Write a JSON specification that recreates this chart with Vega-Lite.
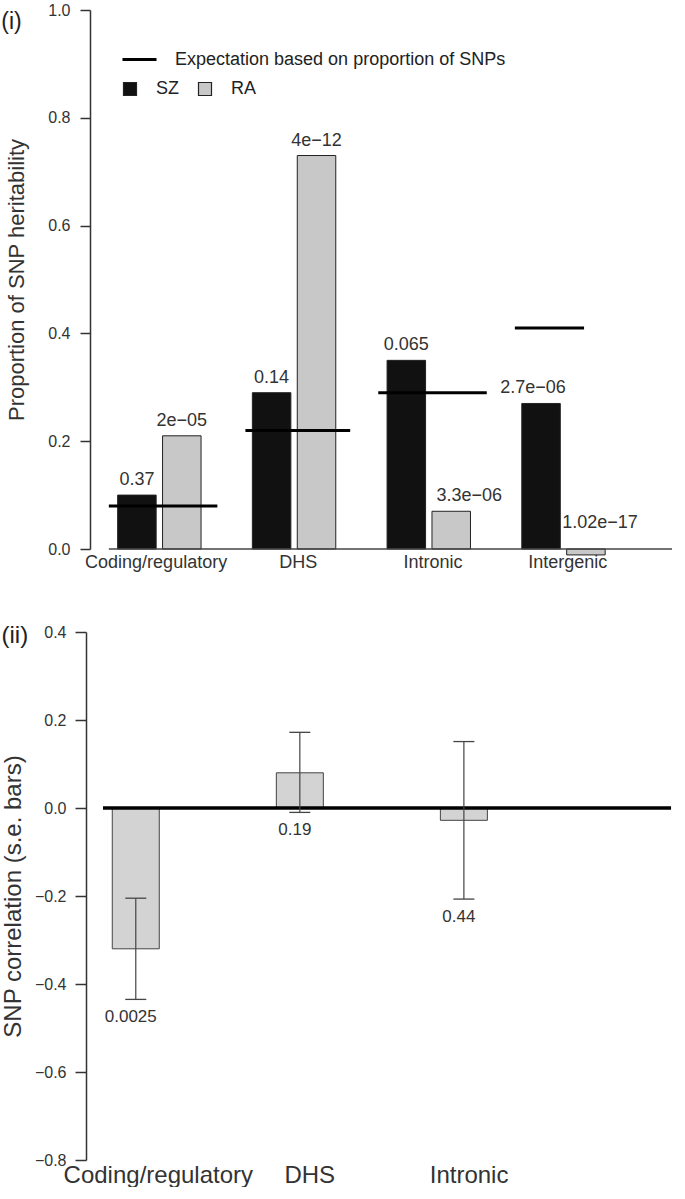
{
  "$schema": "https://vega.github.io/schema/vega-lite/v6.json",
  "padding": {"left": 1, "top": 2, "right": 5, "bottom": 0},
  "spacing": 53,
  "config": {
    "view": {"stroke": null},
    "font": "Liberation Sans",
    "axis": {"grid": false, "labelFont": "Liberation Sans", "titleFont": "Liberation Sans", "titleFontWeight": "normal", "labelColor": "#333", "titleColor": "#333", "domainColor": "#333", "tickColor": "#333", "labelLimit": 0},
    "legend": {"labelFont": "Liberation Sans", "labelColor": "#222", "labelLimit": 0}
  },
  "datasets": {
    "heritability": [
      {"region": "Coding/regulatory", "series": "SZ", "pos": 1.9, "value": 0.10, "p": "0.37"},
      {"region": "Coding/regulatory", "series": "RA", "pos": 3.1, "value": 0.21, "p": "2e\u221205"},
      {"region": "DHS", "series": "SZ", "pos": 5.5, "value": 0.29, "p": "0.14"},
      {"region": "DHS", "series": "RA", "pos": 6.7, "value": 0.73, "p": "4e\u221212"},
      {"region": "Intronic", "series": "SZ", "pos": 9.1, "value": 0.35, "p": "0.065"},
      {"region": "Intronic", "series": "RA", "pos": 10.3, "value": 0.07, "p": "3.3e\u221206"},
      {"region": "Intergenic", "series": "SZ", "pos": 12.7, "value": 0.27, "p": "2.7e\u221206"},
      {"region": "Intergenic", "series": "RA", "pos": 13.9, "value": -0.011, "p": "1.02e\u221217"}
    ],
    "expectation": [
      {"region": "Coding/regulatory", "start": 1.15, "end": 4.05, "expected": 0.08},
      {"region": "DHS", "start": 4.8, "end": 7.6, "expected": 0.22},
      {"region": "Intronic", "start": 8.35, "end": 11.25, "expected": 0.29},
      {"region": "Intergenic", "start": 12.0, "end": 13.85, "expected": 0.41}
    ],
    "correlation": [
      {"region": "Coding/regulatory", "pos": 3.0, "value": -0.32, "lower": -0.435, "upper": -0.205, "p": "0.0025"},
      {"region": "DHS", "pos": 6.5, "value": 0.08, "lower": -0.01, "upper": 0.172, "p": "0.19"},
      {"region": "Intronic", "pos": 10.0, "value": -0.028, "lower": -0.207, "upper": 0.151, "p": "0.44"}
    ]
  },
  "vconcat": [
    {
      "width": 587,
      "height": 539,
      "layer": [
        {
          "data": {"name": "heritability"},
          "mark": {"type": "bar", "width": 38.5, "stroke": "#222", "strokeWidth": 1},
          "encoding": {
            "x": {"field": "pos", "type": "quantitative",
              "scale": {"domain": [0.78, 16.2], "nice": false, "zero": false},
              "axis": {"values": [2.4, 6.2, 9.8, 13.4], "labelExpr": "datum.value < 3 ? 'Coding/regulatory' : datum.value < 7 ? 'DHS' : datum.value < 11 ? 'Intronic' : 'Intergenic'", "domain": false, "ticks": false, "tickSize": 0, "labelPadding": 4, "labelFontSize": 18, "labelOverlap": false, "labelFlush": false, "title": null}},
            "y": {"field": "value", "type": "quantitative",
              "scale": {"domain": [0, 1], "nice": false},
              "axis": {"values": [0, 0.2, 0.4, 0.6, 0.8, 1.0], "format": ".1f", "tickSize": 10, "labelPadding": 10, "labelFontSize": 16, "domainWidth": 1.5, "tickWidth": 1.5, "title": "Proportion of SNP heritability", "titleFontSize": 22, "titlePadding": 19}},
            "y2": {"datum": 0},
            "fill": {"field": "series", "type": "nominal",
              "scale": {"domain": ["SZ", "RA"], "range": ["#111111", "#c8c8c8"]},
              "legend": {"orient": "none", "legendX": 31, "legendY": 70, "direction": "horizontal", "title": null, "symbolType": "square", "symbolSize": 169, "symbolStrokeColor": "#222", "symbolStrokeWidth": 1.2, "symbolOpacity": 1, "labelFontSize": 18, "labelOffset": 17, "columnPadding": 16, "padding": 0}}
          }
        },
        {
          "data": {"values": [{}]},
          "mark": {"type": "rule", "color": "#444", "strokeWidth": 1.5},
          "encoding": {"x": {"datum": 1.15}, "x2": {"datum": 16.2}, "y": {"datum": 0}}
        },
        {
          "data": {"name": "expectation"},
          "mark": {"type": "rule", "strokeWidth": 3},
          "encoding": {
            "x": {"field": "start", "type": "quantitative"},
            "x2": {"field": "end"},
            "y": {"field": "expected", "type": "quantitative"},
            "stroke": {"datum": "Expectation based on proportion of SNPs", "type": "nominal",
              "scale": {"range": ["#000000"]},
              "legend": {"orient": "none", "legendX": 31, "legendY": 31, "title": null, "symbolType": "stroke", "symbolSize": 1156, "symbolStrokeWidth": 3, "labelFontSize": 18, "labelOffset": 17, "padding": 0}}
          }
        },
        {
          "data": {"name": "heritability"},
          "transform": [{"filter": "datum.value > 0 && datum.p != '3.3e\u221206' && datum.p != '2.7e\u221206'"}],
          "mark": {"type": "text", "fontSize": 18, "color": "#333", "baseline": "middle", "dy": -15},
          "encoding": {"x": {"field": "pos", "type": "quantitative"}, "y": {"field": "value", "type": "quantitative"}, "text": {"field": "p"}}
        },
        {
          "data": {"name": "heritability"},
          "transform": [{"filter": "datum.p == '3.3e\u221206'"}],
          "mark": {"type": "text", "fontSize": 18, "color": "#333", "baseline": "middle", "dy": -15, "dx": 18},
          "encoding": {"x": {"field": "pos", "type": "quantitative"}, "y": {"field": "value", "type": "quantitative"}, "text": {"field": "p"}}
        },
        {
          "data": {"name": "heritability"},
          "transform": [{"filter": "datum.p == '2.7e\u221206'"}],
          "mark": {"type": "text", "fontSize": 18, "color": "#333", "baseline": "middle", "dy": -15, "dx": -8},
          "encoding": {"x": {"field": "pos", "type": "quantitative"}, "y": {"field": "value", "type": "quantitative"}, "text": {"field": "p"}}
        },
        {
          "data": {"name": "heritability"},
          "transform": [{"filter": "datum.value < 0"}],
          "mark": {"type": "text", "fontSize": 18, "color": "#333", "baseline": "middle", "dy": -26, "dx": 14},
          "encoding": {"x": {"field": "pos", "type": "quantitative"}, "y": {"datum": 0}, "text": {"field": "p"}}
        },
        {
          "data": {"values": [{"panel": "(i)"}]},
          "mark": {"type": "text", "fontSize": 23, "color": "#222", "baseline": "middle", "align": "center"},
          "encoding": {"x": {"datum": -1.45}, "y": {"datum": 0.978}, "text": {"field": "panel"}}
        }
      ]
    },
    {
      "width": 587,
      "height": 528,
      "layer": [
        {
          "data": {"name": "correlation"},
          "mark": {"type": "bar", "width": 47, "fill": "#d3d3d3", "stroke": "#444", "strokeWidth": 1},
          "encoding": {
            "x": {"field": "pos", "type": "quantitative",
              "scale": {"domain": [2.13, 14.44], "nice": false, "zero": false},
              "axis": {"values": [3.47, 6.7, 10.1], "labelExpr": "datum.value < 5 ? 'Coding/regulatory' : datum.value < 8 ? 'DHS' : 'Intronic'", "domain": false, "ticks": false, "tickSize": 0, "labelPadding": 3, "labelFontSize": 24, "labelOverlap": false, "labelFlush": false, "title": null}},
            "y": {"field": "value", "type": "quantitative",
              "scale": {"domain": [-0.8, 0.4], "nice": false},
              "axis": {"values": [-0.8, -0.6, -0.4, -0.2, 0, 0.2, 0.4], "format": ".1f", "offset": 4, "tickSize": 11, "labelPadding": 9, "labelFontSize": 16, "domainWidth": 1.5, "tickWidth": 1.5, "title": "SNP correlation (s.e. bars)", "titleFontSize": 24, "titlePadding": 9}},
            "y2": {"datum": 0}
          }
        },
        {
          "data": {"values": [{}]},
          "mark": {"type": "rule", "color": "#000", "strokeWidth": 3.5},
          "encoding": {"x": {"datum": 2.3}, "x2": {"datum": 14.42}, "y": {"datum": 0}}
        },
        {
          "data": {"name": "correlation"},
          "mark": {"type": "rule", "color": "#444", "strokeWidth": 1.2},
          "encoding": {"x": {"field": "pos", "type": "quantitative"}, "y": {"field": "lower", "type": "quantitative"}, "y2": {"field": "upper"}}
        },
        {
          "data": {"name": "correlation"},
          "mark": {"type": "tick", "orient": "horizontal", "size": 21, "thickness": 1.3, "color": "#444", "opacity": 1},
          "encoding": {"x": {"field": "pos", "type": "quantitative"}, "y": {"field": "lower", "type": "quantitative"}}
        },
        {
          "data": {"name": "correlation"},
          "mark": {"type": "tick", "orient": "horizontal", "size": 21, "thickness": 1.3, "color": "#444", "opacity": 1},
          "encoding": {"x": {"field": "pos", "type": "quantitative"}, "y": {"field": "upper", "type": "quantitative"}}
        },
        {
          "data": {"name": "correlation"},
          "mark": {"type": "text", "fontSize": 17, "color": "#333", "baseline": "middle", "dy": 18, "dx": -5},
          "encoding": {"x": {"field": "pos", "type": "quantitative"}, "y": {"field": "lower", "type": "quantitative"}, "text": {"field": "p"}}
        },
        {
          "data": {"values": [{"panel": "(ii)"}]},
          "mark": {"type": "text", "fontSize": 24, "color": "#222", "baseline": "middle", "align": "center"},
          "encoding": {"x": {"datum": 0.42}, "y": {"datum": 0.39}, "text": {"field": "panel"}}
        }
      ]
    }
  ]
}
